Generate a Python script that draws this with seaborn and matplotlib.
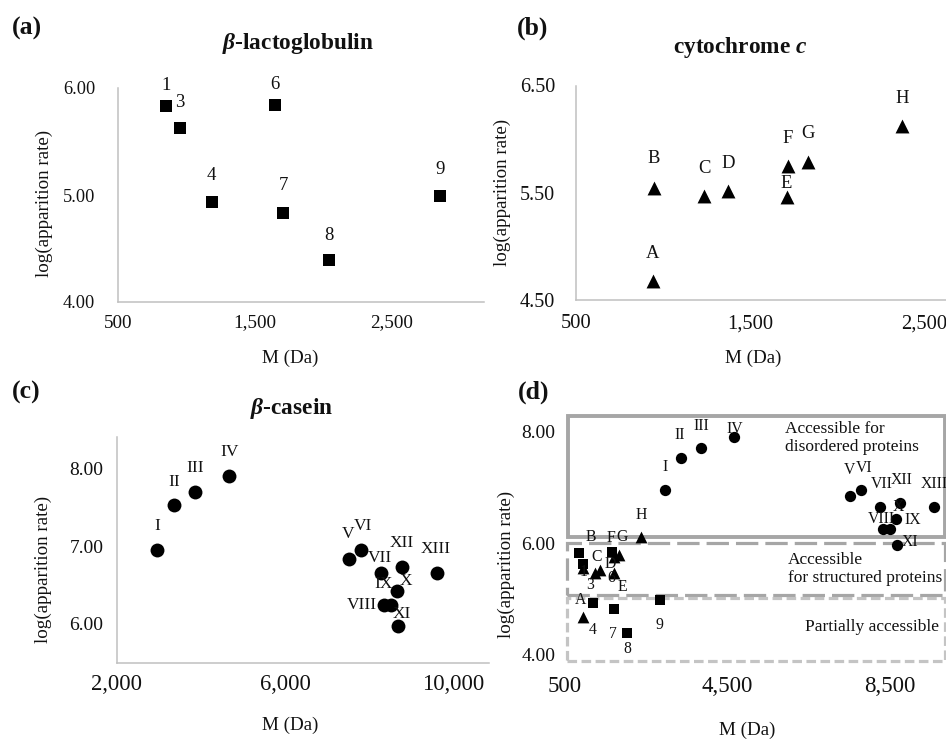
import matplotlib
matplotlib.use("Agg")
import matplotlib.pyplot as plt
from matplotlib.patches import Rectangle
from matplotlib.ticker import FuncFormatter
import seaborn as sns
import pandas as pd

# ---------------- data ----------------
lacto_labels = ["1", "3", "4", "6", "7", "8", "9"]
lacto_mass = [848, 953, 1186, 1648, 1704, 2038, 2848]
lacto_log = [5.83, 5.63, 4.93, 5.84, 4.83, 4.39, 4.99]

cyto_labels = ["A", "B", "C", "D", "E", "F", "G", "H"]
cyto_mass = [940, 947, 1236, 1374, 1708, 1714, 1833, 2372]
cyto_log = [4.68, 5.55, 5.47, 5.52, 5.46, 5.75, 5.79, 6.12]

casein_labels = ["I", "II", "III", "IV", "V", "VI", "VII", "VIII", "IX", "X", "XI", "XII", "XIII"]
casein_mass = [2966, 3362, 3861, 4677, 7521, 7806, 8273, 8352, 8511, 8653, 8677, 8772, 9604]
casein_log = [6.95, 7.53, 7.70, 7.90, 6.84, 6.95, 6.65, 6.25, 6.25, 6.43, 5.97, 6.73, 6.65]

zone_names = ["Accessible for\ndisordered proteins", "Accessible\nfor structured proteins", "Partially accessible"]
zone_low = [6.11, 5.07, 3.89]
zone_high = [8.29, 6.01, 5.02]

lacto = pd.DataFrame({"label": lacto_labels, "M": lacto_mass, "logr": lacto_log})
cyto = pd.DataFrame({"label": cyto_labels, "M": cyto_mass, "logr": cyto_log})
casein = pd.DataFrame({"label": casein_labels, "M": casein_mass, "logr": casein_log})

# ---------------- label offsets (pixels) ----------------
off_a = {"1": (0, 21), "3": (0, 25), "4": (-1, 27), "6": (0, 21), "7": (0, 28), "8": (0, 25), "9": (0, 27)}
off_b = {"A": (0, 28), "B": (0, 29), "C": (0, 28), "D": (0, 27), "E": (0, 14), "F": (0, 28), "G": (0, 28), "H": (0, 28)}
off_c = {"I": (0, 24), "II": (0, 23), "III": (0, 24), "IV": (0, 24), "V": (-1, 25), "VI": (2, 24),
         "VII": (-1, 15), "VIII": (-22, 0), "IX": (-7, 21), "X": (9, 10), "XI": (4, 12), "XII": (0, 24), "XIII": (-1, 24)}
off_d_c = {"I": (0, 23), "II": (-1, 23), "III": (0, 22), "IV": (0, 8), "V": (0, 26), "VI": (3, 22),
           "VII": (2, 23), "VIII": (-2, 10), "IX": (23, 9), "X": (3, 12), "XI": (13, 3), "XII": (1, 23), "XIII": (0, 23)}
off_d_a = {"1": (4, -19), "3": (7, -21), "4": (0, -27), "6": (0, -26), "7": (-1, -25), "8": (0, -16), "9": (-1, -25)}
off_d_b = {"A": (-2, 17), "B": (8, 31), "C": (2, 16), "D": (10, 6), "E": (8, -14), "F": (-3, 19), "G": (3, 18), "H": (0, 22)}

# ---------------- style ----------------
sns.set_style("white")
plt.rcParams['font.family'] = ['Liberation Serif', 'DejaVu Serif']
plt.rcParams['mathtext.fontset'] = 'custom'
plt.rcParams['mathtext.it'] = 'Liberation Serif:italic:bold'
plt.rcParams['mathtext.rm'] = 'Liberation Serif:bold'
plt.rcParams['mathtext.bf'] = 'Liberation Serif:bold'

TXT = "#111111"
AXC = "#c0c0c0"
W, H = 946, 739
fig = plt.figure(figsize=(W / 100, H / 100), dpi=100)


def add_axes(xlim, ylim, xref, yref):
    (xa, pxa), (xb, pxb) = xref
    (ya, pya), (yb, pyb) = yref
    sx = (pxb - pxa) / (xb - xa)
    sy = (pyb - pya) / (yb - ya)
    left = pxa + (xlim[0] - xa) * sx
    right = pxa + (xlim[1] - xa) * sx
    bottom = pya + (ylim[0] - ya) * sy
    top = pya + (ylim[1] - ya) * sy
    ax = fig.add_axes([left / W, 1 - bottom / H, (right - left) / W, (bottom - top) / H])
    ax.set_xlim(xlim)
    ax.set_ylim(ylim)
    return ax


def style(ax, xticks, yticks, xfs, yfs, xpad, ypad, xl, yl, spines=True):
    ax.set_xticks(xticks)
    ax.set_yticks(yticks)
    ax.xaxis.set_major_formatter(FuncFormatter(lambda v, p: f"{v:,.0f}"))
    ax.yaxis.set_major_formatter(FuncFormatter(lambda v, p: f"{v:.2f}"))
    ax.tick_params(axis='x', length=0, labelsize=xfs, pad=xpad, labelcolor=TXT)
    ax.tick_params(axis='y', length=0, labelsize=yfs, pad=ypad, labelcolor=TXT)
    ax.grid(False)
    ax.set_facecolor("none")
    for s in ['top', 'right']:
        ax.spines[s].set_visible(False)
    for s in ['left', 'bottom']:
        ax.spines[s].set_visible(spines)
        ax.spines[s].set_color(AXC)
        ax.spines[s].set_linewidth(1.1)
    ax.set_xlabel("M (Da)", fontsize=13.7, color=TXT)
    ax.set_ylabel("log(apparition rate)", fontsize=13.7, color=TXT)
    ax.xaxis.set_label_coords(xl[0] / W, 1 - xl[1] / H, transform=fig.transFigure)
    ax.yaxis.set_label_coords(yl[0] / W, 1 - yl[1] / H, transform=fig.transFigure)
    ax.xaxis.label.set_va('center')
    ax.yaxis.label.set_va('center')
    ax.yaxis.label.set_ha('center')


def points(ax, df, marker, s):
    sns.scatterplot(data=df, x="M", y="logr", marker=marker, s=s, color="black",
                    edgecolor="black", linewidth=0, ax=ax, zorder=3, legend=False)


def labels(ax, df, offs, fs):
    for lab, xv, yv in zip(df["label"], df["M"], df["logr"]):
        dx, dy = offs.get(lab, (0, 24))
        ax.annotate(lab, (xv, yv), xytext=(dx, dy), textcoords='offset pixels',
                    ha='center', va='center', fontsize=fs, color=TXT, zorder=4)


def ftext(px, py, s, **kw):
    fig.text(px / W, 1 - py / H, s, color=TXT, **kw)


# ---------------- panel (a) ----------------
axa = add_axes((500, 3170), (4, 6), ((500, 118), (1500, 255)), ((4, 302), (6, 88)))
points(axa, lacto, "s", 68)
labels(axa, lacto, off_a, 13.5)
style(axa, [500, 1500, 2500], [4, 5, 6], 13.8, 13.2, 9, 16.5, (290, 358), (44, 203))
ftext(12, 28, "(a)", fontsize=18.5, fontweight='bold', ha='left', va='center')
ftext(298, 43, r"$\beta$-lactoglobulin", fontsize=16.8, fontweight='bold', ha='center', va='center')

# ---------------- panel (b) ----------------
axb = add_axes((500, 2625), (4.5, 6.5), ((500, 576), (1500, 750.3)), ((4.5, 300.5), (6.5, 85.5)))
points(axb, cyto, "^", 100)
labels(axb, cyto, off_b, 13.4)
style(axb, [500, 1500, 2500], [4.5, 5.5, 6.5], 14.8, 14.5, 10, 15, (753, 358), (502, 192))
ftext(517, 28, "(b)", fontsize=18.5, fontweight='bold', ha='left', va='center')
ftext(740, 47, r"cytochrome $c$", fontsize=16.8, fontweight='bold', ha='center', va='center')

# ---------------- panel (c) ----------------
axc = add_axes((2000, 10850), (5.5, 8.4), ((2000, 116.7), (6000, 285.1)), ((6, 624), (8, 468.3)))
points(axc, casein, "o", 100)
labels(axc, casein, off_c, 12.5)
style(axc, [2000, 6000, 10000], [6, 7, 8], 16.3, 14, 8, 9.5, (290, 725), (43, 569))
ftext(12, 392, "(c)", fontsize=18.5, fontweight='bold', ha='left', va='center')
ftext(292, 408, r"$\beta$-casein", fontsize=16.8, fontweight='bold', ha='center', va='center')

# ---------------- panel (d) ----------------
axd = add_axes((300, 9900), (3.8, 8.4), ((500, 565), (8500, 889.4)), ((4, 655), (8, 431.7)))
box_styles = [dict(ls="-", ec="#a6a6a6", lw=2.8),
              dict(ls=(0, (7, 2.2)), ec="#a6a6a6", lw=2.3),
              dict(ls=(0, (3, 1.4)), ec="#c4c4c4", lw=2.3)]
box_left = [580, 550, 550]
for name, lo, hi, st, bl in zip(zone_names, zone_low, zone_high, box_styles, box_left):
    axd.add_patch(Rectangle((bl, lo), 9870 - bl, hi - lo, fill=False, lw=st["lw"],
                            linestyle=st["ls"], edgecolor=st["ec"], zorder=1, clip_on=False))
points(axd, casein, "o", 66)
points(axd, lacto, "s", 48)
points(axd, cyto, "^", 72)
labels(axd, casein, off_d_c, 11.3)
labels(axd, lacto, off_d_a, 11.3)
labels(axd, cyto, off_d_b, 11.3)
style(axd, [500, 4500, 8500], [4, 6, 8], 16.5, 14, 7, 1, (747, 730), (506, 564), spines=False)
ftext(785, 438, zone_names[0], fontsize=12.5, ha='left', va='center', linespacing=1.15)
ftext(788, 569, zone_names[1], fontsize=12.5, ha='left', va='center', linespacing=1.25)
ftext(805, 627, zone_names[2], fontsize=12.5, ha='left', va='center')
ftext(518, 392, "(d)", fontsize=18.5, fontweight='bold', ha='left', va='center')

fig.savefig("out.png", dpi=100)
